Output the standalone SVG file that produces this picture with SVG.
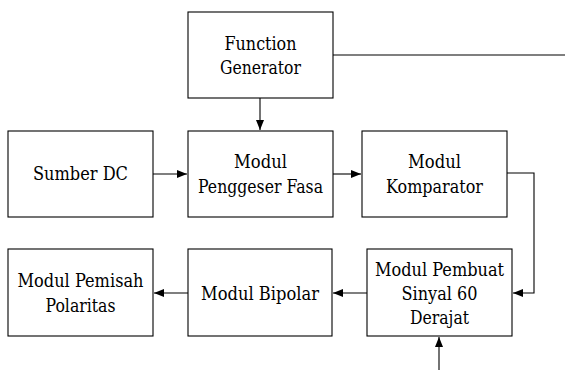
<svg xmlns="http://www.w3.org/2000/svg" width="565" height="370" viewBox="0 0 565 370">
<style>
.box{fill:#fff;stroke:#000;stroke-width:1.1}
.lbl{font-family:"DejaVu Serif",serif;font-size:18px;fill:#000;text-anchor:middle}
.wire{fill:none;stroke:#000;stroke-width:1.1}
</style>
<defs>
<marker id="ah" markerWidth="10" markerHeight="8" refX="10" refY="4" orient="auto" markerUnits="userSpaceOnUse">
<path d="M0,0 L10,4 L0,8 Z" fill="#000"/>
</marker>
</defs>
<rect width="565" height="370" fill="#fff"/>
<g id="function-generator">
<rect class="box" x="188" y="12" width="145" height="86"/>
<text class="lbl" x="260.5" y="50" textLength="72" lengthAdjust="spacingAndGlyphs">Function</text>
<text class="lbl" x="260.5" y="74" textLength="81" lengthAdjust="spacingAndGlyphs">Generator</text>
</g>
<g id="sumber-dc">
<rect class="box" x="8" y="131" width="145" height="86"/>
<text class="lbl" x="80.5" y="180" textLength="95" lengthAdjust="spacingAndGlyphs">Sumber DC</text>
</g>
<g id="penggeser-fasa">
<rect class="box" x="188" y="131" width="145" height="86"/>
<text class="lbl" x="260.5" y="168" textLength="53" lengthAdjust="spacingAndGlyphs">Modul</text>
<text class="lbl" x="260.5" y="193" textLength="125" lengthAdjust="spacingAndGlyphs">Penggeser Fasa</text>
</g>
<g id="komparator">
<rect class="box" x="362" y="131" width="145" height="86"/>
<text class="lbl" x="434.5" y="168" textLength="53" lengthAdjust="spacingAndGlyphs">Modul</text>
<text class="lbl" x="434.5" y="193" textLength="97" lengthAdjust="spacingAndGlyphs">Komparator</text>
</g>
<g id="pemisah-polaritas">
<rect class="box" x="8" y="249" width="145" height="87"/>
<text class="lbl" x="80.5" y="287" textLength="126" lengthAdjust="spacingAndGlyphs">Modul Pemisah</text>
<text class="lbl" x="80.5" y="312" textLength="70" lengthAdjust="spacingAndGlyphs">Polaritas</text>
</g>
<g id="bipolar">
<rect class="box" x="188" y="249" width="144" height="87"/>
<text class="lbl" x="260" y="300" textLength="118" lengthAdjust="spacingAndGlyphs">Modul Bipolar</text>
</g>
<g id="pembuat-sinyal">
<rect class="box" x="367" y="249" width="145" height="87"/>
<text class="lbl" x="439.5" y="276" textLength="129" lengthAdjust="spacingAndGlyphs">Modul Pembuat</text>
<text class="lbl" x="439.5" y="300" textLength="76" lengthAdjust="spacingAndGlyphs">Sinyal 60</text>
<text class="lbl" x="439.5" y="324" textLength="59" lengthAdjust="spacingAndGlyphs">Derajat</text>
</g>
<g id="connectors">
<path class="wire" d="M333,55 H565"/>
<path class="wire" d="M260,98 V130" marker-end="url(#ah)"/>
<path class="wire" d="M153,174 H187" marker-end="url(#ah)"/>
<path class="wire" d="M333,174 H361" marker-end="url(#ah)"/>
<path class="wire" d="M507,173 H534 V293 H513" marker-end="url(#ah)"/>
<path class="wire" d="M367,293 H333" marker-end="url(#ah)"/>
<path class="wire" d="M188,293 H154" marker-end="url(#ah)"/>
<path class="wire" d="M439,370 V337" marker-end="url(#ah)"/>
</g>
</svg>
